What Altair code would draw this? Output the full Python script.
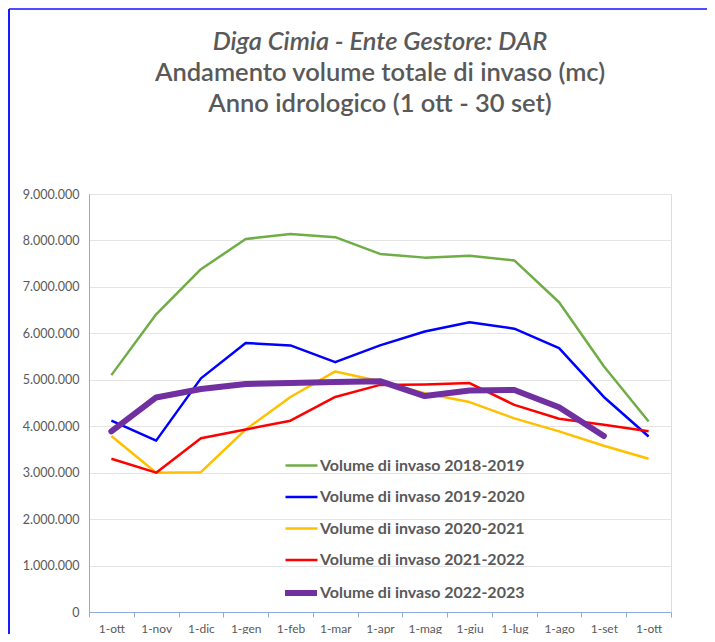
import altair as alt
import pandas as pd

months = ["1-ott", "1-nov", "1-dic", "1-gen", "1-feb", "1-mar", "1-apr",
          "1-mag", "1-giu", "1-lug", "1-ago", "1-set", "1-ott"]

series_names = ["Volume di invaso 2018-2019", "Volume di invaso 2019-2020",
                "Volume di invaso 2020-2021", "Volume di invaso 2021-2022",
                "Volume di invaso 2022-2023"]

v_2018_2019 = [5100000, 6410000, 7380000, 8030000, 8140000, 8070000, 7710000,
               7630000, 7670000, 7570000, 6670000, 5290000, 4100000]
v_2019_2020 = [4120000, 3690000, 5030000, 5790000, 5740000, 5380000, 5740000,
               6040000, 6240000, 6100000, 5680000, 4630000, 3780000]
v_2020_2021 = [3790000, 3000000, 3010000, 3930000, 4630000, 5180000, 4970000,
               4710000, 4520000, 4170000, 3890000, 3580000, 3300000]
v_2021_2022 = [3300000, 3000000, 3740000, 3930000, 4120000, 4630000, 4890000,
               4900000, 4930000, 4460000, 4160000, 4030000, 3890000]
v_2022_2023 = [3890000, 4620000, 4800000, 4910000, 4930000, 4950000, 4970000,
               4650000, 4770000, 4780000, 4410000, 3790000]

colors = ["#70ad47", "#0000ff", "#ffc000", "#ff0000", "#7030a0"]

rows = []
for name, vals in zip(series_names, [v_2018_2019, v_2019_2020, v_2020_2021,
                                     v_2021_2022, v_2022_2023]):
    for i, v in enumerate(vals):
        rows.append({"pos": i, "serie": name, "volume": v})
df = pd.DataFrame(rows)
df_old = df[df["serie"] != series_names[4]]
df_new = df[df["serie"] == series_names[4]]

label_expr = "[" + ",".join("'" + m + "'" for m in months) + "][datum.value]"
FONT = "Lato"
GREY = "#595959"
AXIS_BLUE = "#8faadc"
LEG_X = 195
LEG_Y = 254
ROW = 31.5

x_enc = alt.X("pos:O", title=None,
              scale=alt.Scale(domain=list(range(len(months))), paddingInner=0, paddingOuter=0),
              axis=alt.Axis(labelExpr=label_expr, labelAngle=0, tickBand="extent",
                            domainColor=AXIS_BLUE, tickColor=AXIS_BLUE, tickSize=5,
                            labelColor=GREY, labelFontSize=12, labelFont=FONT,
                            labelPadding=6, grid=False))
y_enc = alt.Y("volume:Q", title=None,
              scale=alt.Scale(domain=[0, 9000000], nice=False, zero=True),
              axis=alt.Axis(values=list(range(0, 9000001, 1000000)),
                            labelExpr="replace(format(datum.value, ','), /,/g, '.')",
                            ticks=False, domainColor=AXIS_BLUE, labelColor=GREY,
                            labelFontSize=12.5, labelFont=FONT, labelPadding=10,
                            gridColor="#e4e4e4", gridWidth=1.2))

def leg(x, y, sw, off):
    return alt.Legend(orient="none", legendX=x, legendY=y,
                      symbolType="stroke", symbolSize=1024, symbolStrokeWidth=sw,
                      labelFontSize=16, labelFont=FONT, labelColor=GREY,
                      labelFontWeight="bold",
                      rowPadding=5.5, labelOffset=off, labelLimit=400)

old_lines = alt.Chart(df_old).mark_line(strokeWidth=2.5, strokeJoin="round").encode(
    x=x_enc, y=y_enc,
    color=alt.Color("serie:N", title=None,
                    scale=alt.Scale(domain=series_names[:4], range=colors[:4]),
                    legend=leg(LEG_X, LEG_Y, 2.5, 1)),
)

new_line = alt.Chart(df_new).mark_line(strokeWidth=6, strokeJoin="round",
                                       strokeCap="round").encode(
    x=x_enc, y=y_enc,
    stroke=alt.Stroke("serie:N", title=None,
                      scale=alt.Scale(domain=series_names[4:], range=colors[4:]),
                      legend=leg(LEG_X - 2, LEG_Y + 4 * ROW, 6, 0)),
)

frame_data = alt.Data(values=[{}])
border_top = alt.Chart(frame_data).mark_rule(color="#4d4dff", strokeWidth=2).encode(
    x=alt.value(-80), x2=alt.value(626), y=alt.value(-185))
border_left = alt.Chart(frame_data).mark_rule(color="#1a1aff", strokeWidth=2).encode(
    x=alt.value(-80), y=alt.value(-185), y2=alt.value(450))

chart = alt.layer(old_lines, new_line, border_top, border_left).properties(
    width=582, height=418,
    autosize=alt.AutoSizeParams(type="none"),
    padding={"left": 81, "top": 186, "right": 36, "bottom": 22},
    title=alt.TitleParams(
        text="Diga Cimia - Ente Gestore: DAR",
        subtitle=["Andamento volume totale di invaso (mc)",
                  "Anno idrologico (1 ott - 30 set)"],
        font=FONT, fontSize=25.5, fontStyle="italic", fontWeight=600, color=GREY,
        subtitleFont=FONT, subtitleFontSize=25.5, subtitleFontStyle="normal",
        subtitleFontWeight=600, subtitleColor=GREY, subtitleLineHeight=31,
        subtitlePadding=5, anchor="middle", frame="group", offset=-109,
    ),
).configure_view(stroke=None).configure(background="white")

chart.save("out.html", embed_options={"renderer": "svg", "actions": False})
